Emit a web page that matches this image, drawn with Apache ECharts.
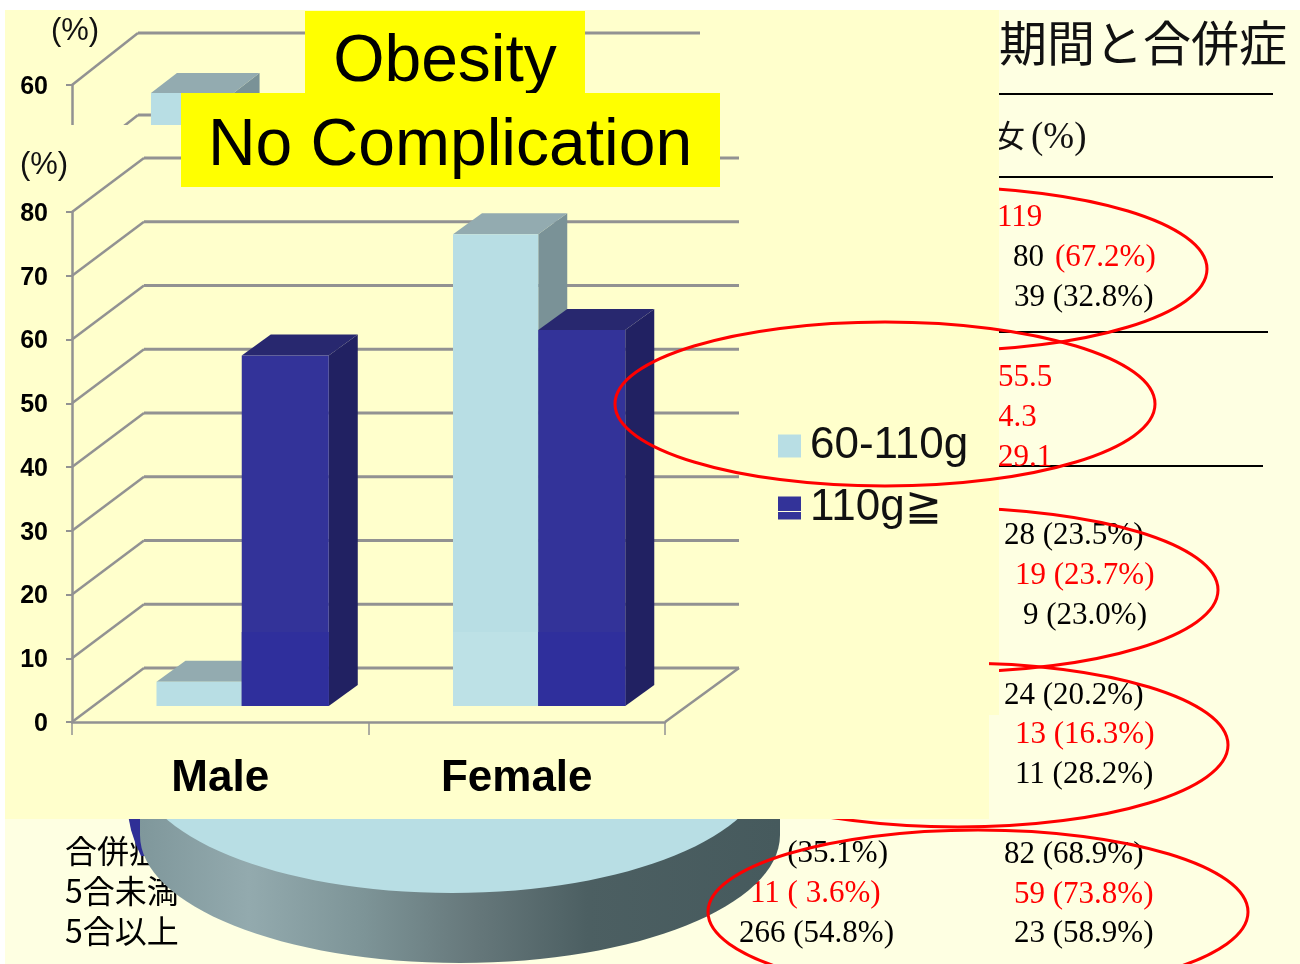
<!DOCTYPE html>
<html><head><meta charset="utf-8">
<style>html,body{margin:0;padding:0;background:#fff}#c{width:1300px;height:964px}</style>
<script src="https://cdn.jsdelivr.net/npm/echarts@6/dist/echarts.min.js"></script>
</head><body><div id="c"></div>
<script>
// ---- data ----
const categories = ['Male', 'Female'];
const lightValues = [3.8, 74];
const darkValues = [55, 59];
const rearCategories = ['Male', 'Female'];
const rearLightValues = [57.2];
const yTicks = [0, 10, 20, 30, 40, 50, 60, 70, 80];
const seriesNames = ['60-110g', '110g≧'];
const titleText = '期間と合併症';
const boxTexts = ['Obesity', 'No Complication'];
const femaleColumn = ['119', '80', '(67.2%)', '39 (32.8%)', '55.5', '4.3', '29.1',
  '28 (23.5%)', '19 (23.7%)', '9 (23.0%)', '24 (20.2%)', '13 (16.3%)', '11 (28.2%)',
  '82 (68.9%)', '59 (73.8%)', '23 (58.9%)'];
const maleColumn = ['7 (35.1%)', '11 ( 3.6%)', '266 (54.8%)'];
const rowLabels = ['合併症', '5合未満', '5合以上'];

// ---- layout (kept apart from the data) ----
const femaleX = [997,1013,1055,1014,998,998,998,1004,1015,1023,1004,1015,1015,1004,1014,1014];
const femaleY = [215,255,255,295,375,415,455,533,573,613,693,732,772,852,892,931];
const femaleRed = [1,0,1,0,1,1,1,0,1,0,0,1,0,0,1,0];
const maleX = [764,750,739], maleY = [851,891,931], maleRed = [0,1,0];
const labelY = [851,891,931];
const RED = '#ff0000', SERIF = '"Liberation Serif","Noto Sans CJK JP"', SANS = '"Liberation Sans",Arial,sans-serif';
const rules = [[94,1273],[177,1273],[332,1268],[466,1263]];

function txt(text,x,y,font,fill,z,align){return {type:'text',z,silent:true,style:{text,x,y,font,fill,textAlign:align||'left',textVerticalAlign:'middle'}};}
function latin(text,x,y,size,family,fill,z,align){return txt(text,x,y+size*0.08,size+'px '+family,fill,z,align);}
function rect(x,y,w,h,fill,z){return {type:'rect',z,silent:true,shape:{x,y,width:w,height:h},style:{fill}};}
function ring(cx,cy,z){return {type:'ellipse',z,silent:true,shape:{cx,cy,rx:270,ry:82},style:{fill:'none',stroke:RED,lineWidth:3}};}

const sideGrad = new echarts.graphic.LinearGradient(0,0,1,0,[
  {offset:0,color:'#7f979b'},{offset:0.17,color:'#93aaae'},{offset:0.35,color:'#7d9497'},
  {offset:0.52,color:'#66787b'},{offset:0.7,color:'#4c5f62'},{offset:1,color:'#465a5d'}]);

const graphics = [
  rect(5,10,1295,954,'#feffe2',1),
  txt(titleText,999,43,'48px "Noto Sans CJK JP"','#111',2),
  txt('女',1025,135,'31px "Noto Sans CJK JP"','#111',2,'right'),
  latin('(%)',1031,135,37,'"Liberation Serif"','#111',2),
];
rules.forEach(r=>graphics.push({type:'line',z:2,silent:true,shape:{x1:900,y1:r[0],x2:r[1],y2:r[0]},style:{stroke:'#000',lineWidth:2}}));
femaleColumn.forEach((t,i)=>graphics.push(latin(t,femaleX[i],femaleY[i],31,SERIF,femaleRed[i]?RED:'#000',3)));
maleColumn.forEach((t,i)=>graphics.push(latin(t,maleX[i],maleY[i],31,SERIF,maleRed[i]?RED:'#000',3)));
rowLabels.forEach((t,i)=>graphics.push(txt(t,65,labelY[i],'32px "Noto Sans CJK JP"','#000',3)));
graphics.push(ring(937,269,4), ring(948,590,4));
// fragment of the covered 3D pie
graphics.push({type:'polygon',z:5,silent:true,shape:{points:[[128,815],[131,830],[136,845],[141,856],[170,856],[170,815]]},style:{fill:'#2f2f96'}});
graphics.push({type:'rect',z:6,silent:true,shape:{x:140,y:700,width:640,height:135},style:{fill:sideGrad}});
graphics.push({type:'ellipse',z:6,silent:true,shape:{cx:460,cy:835,rx:320,ry:128},style:{fill:sideGrad}});
graphics.push({type:'ellipse',z:7,silent:true,shape:{cx:452,cy:765,rx:315,ry:128},style:{fill:'#b8dee4'}});
graphics.push(ring(978,912,8));
// first slide panel, later panel
graphics.push(rect(5,10,994,705,'#ffffcc',10));
graphics.push(latin('(%)',75,29,31,SANS,'#111',12,'center'));
graphics.push(ring(958,745,13));
graphics.push(rect(5,125,984,694,'#ffffcc',14));
graphics.push(latin('(%)',44,163,31,SANS,'#111',16,'center'));
// captions
graphics.push(rect(305,11,280,82,'#ffff00',20));
graphics.push(latin(boxTexts[0],445,58,66,SANS,'#000',21,'center'));
graphics.push(rect(181,93,539,94,'#ffff00',22));
graphics.push(latin(boxTexts[1],450,142,66,SANS,'#000',23,'center'));
graphics.push({type:'line',z:26,silent:true,shape:{x1:778,y1:511.5,x2:801,y2:511.5},style:{stroke:'#ffffe0',lineWidth:1}});
graphics.push(ring(885,404,27));

function wallRender(dx,dy,backW,color){
  return function(params,api){
    const v=api.value(0), cs=params.coordSys, y=api.coord([0,v])[1], x=cs.x;
    const children=[
      {type:'line',shape:{x1:x,y1:y,x2:x+dx,y2:y+dy},style:{stroke:color,lineWidth:2.5}},
      {type:'line',shape:{x1:x+dx,y1:y+dy,x2:x+dx+backW,y2:y+dy},style:{stroke:color,lineWidth:3}}
    ];
    if(v===0){children.push({type:'line',shape:{x1:x+cs.width,y1:y,x2:x+dx+backW,y2:y+dy},style:{stroke:color,lineWidth:2.5}});}
    return {type:'group',children};
  };
}
function barRender(from,to,lift,dx,dy,base,front,lower,side,top){
  return function(params,api){
    const cat=api.value(0), v=api.value(1), c=api.coord([cat,v]), band=api.size([1,0])[0];
    const x0=c[0]+band*from, x1=c[0]+band*to, yT=c[1]-lift, yB=api.coord([cat,base])[1]-lift;
    const yL=api.coord([cat,11.6])[1]-lift;
    const kids=[
      {type:'polygon',shape:{points:[[x1,yT],[x1+dx,yT+dy],[x1+dx,yB+dy],[x1,yB]]},style:{fill:side}},
      {type:'polygon',shape:{points:[[x0,yT],[x1,yT],[x1+dx,yT+dy],[x0+dx,yT+dy]]},style:{fill:top}},
      {type:'rect',shape:{x:x0,y:yT,width:x1-x0,height:yB-yT},style:{fill:front}}
    ];
    if(lower&&yT<yL){kids.push({type:'rect',shape:{x:x0,y:yL,width:x1-x0,height:yB-yL},style:{fill:lower}});}
    return {type:'group',children:kids};
  };
}
const AX='#929292';
const yLabel={formatter:'{v|{value}}',margin:24,rich:{v:{color:'#000',fontFamily:'Liberation Sans',fontWeight:'bold',fontSize:25,padding:[4,0,0,0]}}};
const option={
  animation:false,
  backgroundColor:'#ffffff',
  legend:{orient:'vertical',left:778,top:424,padding:0,z:25,itemWidth:23,itemHeight:23,itemGap:18,selectedMode:false,
    data:seriesNames.map(n=>({name:n,icon:'rect'})),
    textStyle:{fontFamily:'Liberation Sans',fontSize:44,color:'#111',padding:[0,0,0,4]}},
  grid:[
    {left:72,top:212,width:593,height:510},
    {left:72,top:85,width:562,height:82}
  ],
  xAxis:[
    {type:'category',gridIndex:0,data:categories,z:15,
      axisLine:{lineStyle:{color:AX,width:2.5}},
      axisTick:{show:true,length:13,lineStyle:{color:AX,width:1.5}},
      axisLabel:{color:'#000',fontFamily:'Liberation Sans',fontWeight:'bold',fontSize:44,margin:35}},
    {type:'category',gridIndex:1,data:rearCategories,show:false,z:11}
  ],
  yAxis:[
    {type:'value',gridIndex:0,min:0,max:80,interval:10,z:15,
      axisLine:{show:true,lineStyle:{color:AX,width:2.5}},
      axisTick:{show:true,length:6,lineStyle:{color:AX,width:2}},
      splitLine:{show:false},
      axisLabel:yLabel},
    {type:'value',gridIndex:1,min:50,max:60,interval:10,z:11,
      axisLine:{show:true,lineStyle:{color:AX,width:2.5}},
      axisTick:{show:true,length:6,lineStyle:{color:AX,width:2}},
      splitLine:{show:false},
      axisLabel:yLabel}
  ],
  series:[
    {type:'custom',name:'rear wall',xAxisIndex:1,yAxisIndex:1,z:11,silent:true,coordinateSystem:'cartesian2d',
      data:[[50],[60]],encode:{y:0},renderItem:wallRender(66,-52,562,AX)},
    {type:'custom',name:'rear bars',xAxisIndex:1,yAxisIndex:1,z:12,silent:true,
      data:rearLightValues.map((v,i)=>[i,v]),encode:{x:0,y:1},
      renderItem:barRender(-0.219,0.075,15,26,-20,50,'#b8dee4',null,'#7a9297','#93abb0')},
    {type:'custom',name:'wall',xAxisIndex:0,yAxisIndex:0,z:16,silent:true,
      data:yTicks.map(v=>[v]),encode:{y:0},renderItem:wallRender(72,-54,595,AX)},
    {type:'custom',name:seriesNames[0],xAxisIndex:0,yAxisIndex:0,z:17,silent:true,itemStyle:{color:'#b8dee4'},
      data:lightValues.map((v,i)=>[i,v]),encode:{x:0,y:1},
      renderItem:barRender(-0.215,0.0725,16,29,-21,0,'#b8dee4','#bde1e6','#7a9297','#93abb0')},
    {type:'custom',name:seriesNames[1],xAxisIndex:0,yAxisIndex:0,z:18,silent:true,itemStyle:{color:'#333399'},
      data:darkValues.map((v,i)=>[i,v]),encode:{x:0,y:1},
      renderItem:barRender(0.0725,0.366,16,29,-21,0,'#333399','#2f2f9c','#212162','#28286f')}
  ],
  graphic:{elements:graphics}
};
echarts.init(document.getElementById('c'),null,{renderer:'canvas'}).setOption(option);
</script></body></html>
